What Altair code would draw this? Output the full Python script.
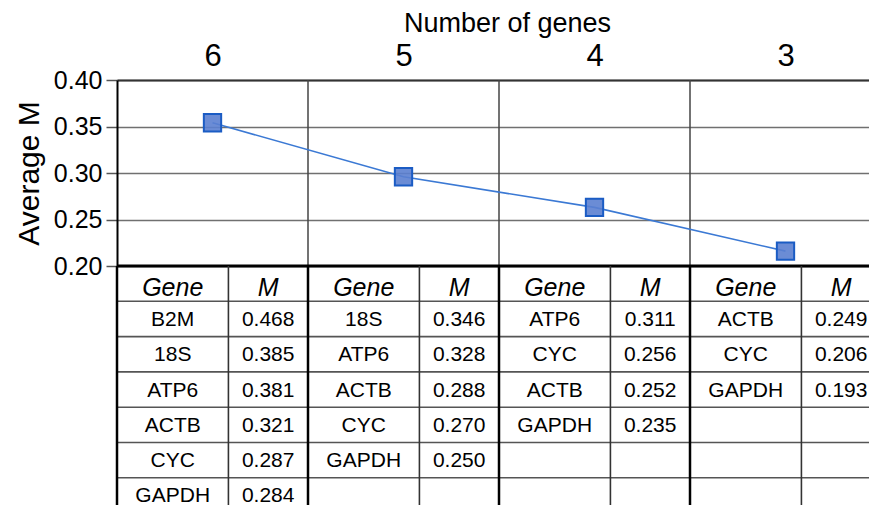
import altair as alt
import pandas as pd

# ---------------- data ----------------
n_genes = [6, 5, 4, 3]
avg_m = [0.354, 0.296, 0.263, 0.216]
y_ticks = [0.20, 0.25, 0.30, 0.35, 0.40]

genes_6 = ["B2M", "18S", "ATP6", "ACTB", "CYC", "GAPDH"]
m_6 = [0.468, 0.385, 0.381, 0.321, 0.287, 0.284]
genes_5 = ["18S", "ATP6", "ACTB", "CYC", "GAPDH"]
m_5 = [0.346, 0.328, 0.288, 0.270, 0.250]
genes_4 = ["ATP6", "CYC", "ACTB", "GAPDH"]
m_4 = [0.311, 0.256, 0.252, 0.235]
genes_3 = ["ACTB", "CYC", "GAPDH"]
m_3 = [0.249, 0.206, 0.193]

header_gene = "Gene"
header_m = "M"

table_genes = {6: genes_6, 5: genes_5, 4: genes_4, 3: genes_3}
table_m = {6: m_6, 5: m_5, 4: m_4, 3: m_3}

# ---------------- layout ----------------
FONT = "Liberation Sans"
BAND = 191.0              # px per gene-count unit
PLOT_W = 752
TOP_H = 186
ROW_H = 35.3
N_ROWS = 7
TOTAL_H = 425
GENE_FRAC = 112 / 192.0
X_LEFT = max(n_genes) + 0.5
X_RIGHT = X_LEFT - PLOT_W / BAND

xs = alt.Scale(domain=[X_RIGHT, X_LEFT], reverse=True, nice=False, zero=False)
x_axis = alt.Axis(
    orient="top", values=n_genes, format="d", title="Number of genes",
    grid=False, ticks=False, tickSize=0, domain=True, domainColor="#333",
    domainWidth=2, labelFontSize=31, labelPadding=8, labelColor="black",
    labelFont=FONT, titleFont=FONT, titleFontSize=27, titleFontWeight="normal",
    titleColor="black", titlePadding=3, titleX=2 * BAND + 8,
)

ys_top = alt.Scale(domain=[0.20, 0.40], range=[TOP_H, 0], nice=False, zero=False)
y_axis_top = alt.Axis(
    values=y_ticks, format=".2f", title="Average M",
    grid=True, gridColor="#707070", gridWidth=1.7,
    domain=True, domainColor="black", domainWidth=2,
    ticks=True, tickSize=11, tickColor="#555", tickWidth=1.5,
    labelFontSize=25, labelPadding=4, labelColor="black", labelFont=FONT,
    titleFont=FONT, titleFontSize=30, titleFontWeight="normal",
    titleColor="black", titlePadding=9,
)

ys_tab = alt.Scale(domain=[0, N_ROWS], range=[TOP_H, TOP_H + N_ROWS * ROW_H],
                   nice=False, zero=False)

# ---------------- frames ----------------
df_line = pd.DataFrame({"x": n_genes, "avg": avg_m})

bounds = [n - 0.5 for n in n_genes[:-1]]                 # 5.5, 4.5, 3.5
df_vb = pd.DataFrame({"x": bounds, "lo": [y_ticks[0]] * len(bounds),
                      "hi": [y_ticks[-1]] * len(bounds)})

df_group = pd.DataFrame({"x": [n + 0.5 for n in n_genes],
                         "r0": [0] * len(n_genes), "r1": [N_ROWS] * len(n_genes)})
df_split = pd.DataFrame({"x": [n + 0.5 - GENE_FRAC for n in n_genes],
                         "r0": [0] * len(n_genes), "r1": [N_ROWS] * len(n_genes)})
rows_inner = list(range(1, N_ROWS))
df_hl = pd.DataFrame({"x": [X_LEFT] * len(rows_inner),
                      "x_end": [X_RIGHT] * len(rows_inner), "row": rows_inner})
df_top = pd.DataFrame({"x": [X_LEFT], "x_end": [X_RIGHT], "row": [0]})

head_rows, body_rows = [], []
for n in n_genes:
    xg = n + 0.5 - GENE_FRAC / 2
    xm = n + 0.5 - GENE_FRAC - (1 - GENE_FRAC) / 2
    head_rows.append({"x": xg, "row": 0.5, "txt": header_gene})
    head_rows.append({"x": xm, "row": 0.5, "txt": header_m})
    for i, (g, m) in enumerate(zip(table_genes[n], table_m[n])):
        body_rows.append({"x": xg, "row": i + 1.5, "txt": g})
        body_rows.append({"x": xm, "row": i + 1.5, "txt": f"{m:.3f}"})
df_head = pd.DataFrame(head_rows)
df_body = pd.DataFrame(body_rows)

X = lambda f: alt.X(f, scale=xs, axis=x_axis)
YT = lambda f: alt.Y(f, scale=ys_top, axis=y_axis_top)
YB = lambda f: alt.Y(f, scale=ys_tab, axis=None)

# ---------------- upper (plot) ----------------
vrules = alt.Chart(df_vb).mark_rule(color="#444", strokeWidth=1.5).encode(
    x=X("x:Q"), y=YT("lo:Q"), y2="hi:Q")
line = alt.Chart(df_line).mark_line(color="#3b79d4", strokeWidth=1.6).encode(
    x=X("x:Q"), y=YT("avg:Q"))
points = alt.Chart(df_line).mark_point(
    shape="square", filled=True, size=300, fill="#5b7fd0", fillOpacity=0.9,
    stroke="#1b5cc4", strokeWidth=2, opacity=1).encode(
    x=X("x:Q"), y=YT("avg:Q"))
upper = alt.layer(vrules, line, points)

# ---------------- lower (table) ----------------
hlines = alt.Chart(df_hl).mark_rule(color="#555", strokeWidth=1.6).encode(
    x=X("x:Q"), x2="x_end:Q", y=YB("row:Q"))
topline = alt.Chart(df_top).mark_rule(color="black", strokeWidth=3).encode(
    x=X("x:Q"), x2="x_end:Q", y=YB("row:Q"))
glines = alt.Chart(df_group).mark_rule(color="black", strokeWidth=2.5).encode(
    x=X("x:Q"), y=YB("r0:Q"), y2="r1:Q")
slines = alt.Chart(df_split).mark_rule(color="#333", strokeWidth=1.6).encode(
    x=X("x:Q"), y=YB("r0:Q"), y2="r1:Q")
head_txt = alt.Chart(df_head).mark_text(
    font=FONT, fontSize=25, fontStyle="italic", color="black",
    align="center", baseline="middle", dy=4).encode(
    x=X("x:Q"), y=YB("row:Q"), text="txt:N")
body_txt = alt.Chart(df_body).mark_text(
    font=FONT, fontSize=21, color="black", align="center",
    baseline="middle", dy=1).encode(
    x=X("x:Q"), y=YB("row:Q"), text="txt:N")
lower = alt.layer(hlines, topline, slines, glines, head_txt, body_txt)

chart = (
    alt.layer(upper, lower)
    .resolve_scale(y="independent")
    .properties(
        width=PLOT_W, height=TOTAL_H,
        autosize=alt.AutoSizeParams(type="none"),
        padding={"left": 109, "top": 72, "right": 0, "bottom": 0},
        background="white",
    )
    .configure(font=FONT)
    .configure_view(stroke=None)
)

chart.save("out.html", embed_options={"renderer": "svg", "actions": False})
